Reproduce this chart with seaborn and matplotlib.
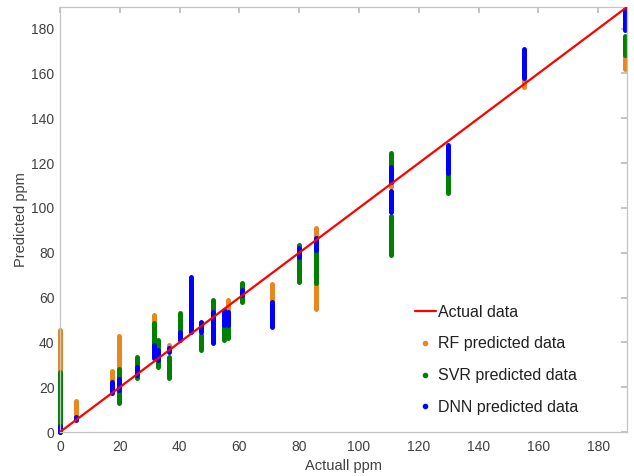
import numpy as np
import pandas as pd
import matplotlib
matplotlib.use("Agg")
import matplotlib.pyplot as plt
from matplotlib.lines import Line2D
import seaborn as sns

# vertical streaks of predictions: (actual ppm, lowest predicted, highest predicted)
rf_segments = [
    (0, 0, 45.5), (5.4, 6, 14), (17.5, 22, 27), (19.6, 27, 43),
    (31.5, 47, 52), (36.6, 37.5, 38.8), (40, 44, 45.5), (56.2, 53, 59),
    (56.2, 61, 61), (70.8, 58, 66), (85.6, 55, 91), (110.6, 109.2, 112.5),
    (155.2, 154, 158), (188.8, 162, 168.3),
]
svr_segments = [
    (0, 0, 26.6), (19.6, 13, 28), (25.6, 24, 33.6), (31.5, 37.4, 48.5),
    (32.9, 29.2, 41), (36.6, 24, 33.6), (40, 45.5, 53), (47.2, 36.6, 43.3),
    (51.3, 40, 59), (54.8, 41, 48.6), (56.2, 42, 47.8), (61, 58.2, 66.4),
    (80, 67, 83.5), (85.6, 66.4, 84), (110.6, 79, 96.4), (110.6, 118.4, 124.4),
    (129.9, 106.8, 115.5), (188.8, 168.3, 176.8),
]
dnn_segments = [
    (0, 0, 2.5), (5.4, 5.4, 6.5), (17.5, 17.5, 22.5), (19.6, 18.7, 23.6),
    (25.6, 25.4, 29), (31.5, 33, 38.8), (32.9, 32, 36.6), (36.6, 35.8, 37.5),
    (40, 41, 44.8), (43.7, 44.8, 69.3), (47.2, 44.8, 49.2), (51.3, 39.6, 53.7),
    (54.8, 47.8, 54.5), (56.2, 47.8, 53.7), (61, 61.2, 63.4), (70.8, 47, 58),
    (80, 78, 82), (85.6, 81, 86.5), (110.6, 98.3, 107.3), (110.6, 111.7, 118.4),
    (129.9, 115.5, 128), (155.2, 158, 170.8), (188.8, 179.5, 188.7),
]
actual_x = [0, 189.6]
actual_y = [0, 189.6]

models = ["RF predicted data", "SVR predicted data", "DNN predicted data"]
colors = {"RF predicted data": "#E8871E", "SVR predicted data": "#008000",
          "DNN predicted data": "#0000FF"}

rows = []
for name, segs in zip(models, [rf_segments, svr_segments, dnn_segments]):
    for i, (x, lo, hi) in enumerate(segs):
        rows.append((name, f"{name}-{i}", x, lo))
        rows.append((name, f"{name}-{i}", x, hi))
df = pd.DataFrame(rows, columns=["model", "seg", "actual", "pred"])

sns.set_theme(style="white")
plt.rcParams["font.family"] = ["Liberation Sans", "DejaVu Sans"]

fig = plt.figure(figsize=(6.34, 4.76), dpi=100)
ax = fig.add_axes([0.0946, 0.0924, 0.8944, 0.8929])

for name in models:
    sns.lineplot(data=df[df.model == name], x="actual", y="pred", units="seg",
                 estimator=None, sort=False, color=colors[name], lw=3.6,
                 solid_capstyle="round", clip_on=False, ax=ax, legend=False)

sns.lineplot(x=actual_x, y=actual_y, color="#FF0000", lw=1.6, ax=ax,
             legend=False, zorder=5)

ax.set_xlim(0, 189.6)
ax.set_ylim(0, 189.6)
ax.set_xticks(np.arange(0, 181, 20))
ax.set_yticks(np.arange(0, 181, 20))
ax.tick_params(direction="in", length=4, top=True, right=True, color="#bdbdbd",
               labelsize=10, labelcolor="#404040")
ax.tick_params(axis="x", pad=6)
ax.tick_params(axis="y", pad=4)
for s in ax.spines.values():
    s.set_color("#c4c4c4")
    s.set_linewidth(0.9)
ax.set_xlabel("Actuall ppm", fontsize=10.5, color="#404040", labelpad=3)
ax.set_ylabel("Predicted ppm", fontsize=10.5, color="#404040", labelpad=2)

handles = [Line2D([], [], color="#FF0000", lw=1.6)]
for name in models:
    handles.append(Line2D([], [], ls="none", marker="o", ms=3,
                          color=colors[name]))
labels = ["Actual data"] + models
ax.legend(handles, labels, loc="lower left", bbox_to_anchor=(0.626, 0.04),
          frameon=False, fontsize=11.5, handlelength=1.3, handletextpad=0.15,
          labelspacing=1.05, borderpad=0, borderaxespad=0,
          labelcolor="#202020")

fig.savefig("out.png", dpi=100)
